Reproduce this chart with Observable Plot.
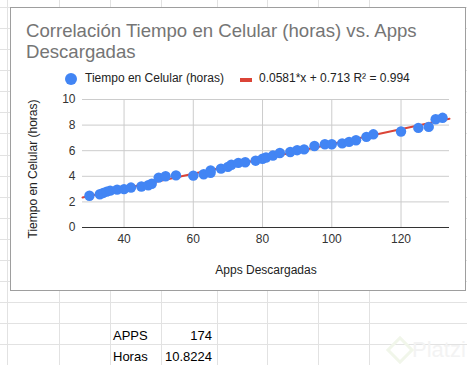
<!DOCTYPE html>
<html>
<head>
<meta charset="utf-8">
<script src="https://cdn.jsdelivr.net/npm/d3@7"></script>
<script src="https://cdn.jsdelivr.net/npm/@observablehq/plot@0.6"></script>
<style>
  html, body { margin: 0; padding: 0; }
  body { width: 467px; height: 365px; position: relative; overflow: hidden; background: #fff; font-family: "Liberation Sans", Arial, sans-serif; }
  .vl { position: absolute; top: 0; width: 1px; height: 365px; background: #e2e2e2; }
  .hl { position: absolute; left: 0; height: 1px; width: 467px; background: #e2e2e2; }
  #box { position: absolute; left: 10px; top: 7px; width: 454px; height: 282px; border: 1px solid #9e9e9e; background: #fff; }
  .abs { position: absolute; white-space: nowrap; }
  #title { left: 15px; top: 12px; font-size: 18.6px; line-height: 21px; color: #757575; }
  .leg { font-size: 12px; color: #222; top: 63px; }
  #chart { position: absolute; left: 0px; top: 80px; }
  .cell { position: absolute; font-size: 13px; color: #000; }
</style>
</head>
<body>
<div id="grid"></div>
<div id="box">
  <div id="title" class="abs">Correlación Tiempo en Celular (horas) vs. Apps<br>Descargadas</div>
  <div class="abs" style="left:54px;top:65px;width:12px;height:12px;border-radius:50%;background:#4285f4"></div>
  <div class="abs leg" style="left:74px">Tiempo en Celular (horas)</div>
  <div class="abs" style="left:229px;top:70px;width:12px;height:4px;background:#db4437"></div>
  <div class="abs leg" style="left:248px">0.0581*x + 0.713 R² = 0.994</div>
  <div id="chart"></div>
  <div class="abs" style="left:22px;top:161px;font-size:12px;color:#222;transform:translate(-50%,-50%) rotate(-90deg)">Tiempo en Celular (horas)</div>
  <div class="abs" style="left:255px;top:255px;font-size:12px;color:#222;transform:translateX(-50%)">Apps Descargadas</div>
</div>
<div class="cell" style="left:113px;top:328px">APPS</div>
<div class="cell" style="left:150px;top:328px;width:62px;text-align:right">174</div>
<div class="cell" style="left:113px;top:349px">Horas</div>
<div class="cell" style="left:150px;top:349px;width:62px;text-align:right">10.8224</div>
<div class="abs" style="left:412px;top:337px;font-size:22px;color:#f3f3f3">Platzi</div>
<div class="abs" style="left:390px;top:340px;width:14px;height:14px;border:3px solid #f1f6ea;transform:rotate(45deg)"></div>
<script>
const apps = [30,33,34,35,36,38,40,42,45,47,48,50,52,55,60,63,65,65,68,70,71,73,75,78,80,81,83,85,88,90,92,95,98,100,103,105,107,110,112,120,125,128,130,132];
const horas = [2.48,2.6,2.7,2.8,2.88,2.96,3.0,3.12,3.2,3.3,3.42,3.9,4.0,4.07,4.05,4.16,4.45,4.27,4.6,4.74,4.9,5.05,5.1,5.22,5.37,5.47,5.62,5.82,5.9,6.04,6.1,6.37,6.5,6.5,6.57,6.69,6.82,7.08,7.28,7.5,7.78,7.86,8.46,8.57];
const trendX = [28, 134];
const trendY = [2.34, 8.50];
const xTicks = [40, 60, 80, 100, 120];
const yTicks = [0, 2, 4, 6, 8, 10];

const pts = apps.map((a, i) => ({apps: a, horas: horas[i]}));
const trend = trendX.map((a, i) => ({apps: a, horas: trendY[i]}));

const grid = document.getElementById("grid");
[7, 59, 110, 161, 217, 267, 318, 369].forEach(x => { const d = document.createElement("div"); d.className = "vl"; d.style.left = x + "px"; grid.appendChild(d); });
[7, 28, 49, 70, 91, 112, 133, 155, 176, 197, 218, 239, 260, 281, 302, 323, 344].forEach(y => { const d = document.createElement("div"); d.className = "hl"; d.style.top = y + "px"; grid.appendChild(d); });

const plot = Plot.plot({
  width: 453, height: 200,
  marginLeft: 71, marginRight: 15, marginTop: 11, marginBottom: 61,
  style: {fontFamily: "Liberation Sans, Arial, sans-serif", fontSize: "12px", color: "#333", background: "transparent", overflow: "visible"},
  x: {domain: [28, 134], ticks: xTicks, tickSize: 0, tickPadding: 7, label: null},
  y: {domain: [0, 10], ticks: yTicks, tickSize: 0, tickPadding: 7, label: null},
  marks: [
    Plot.gridX(xTicks, {stroke: "#cccccc", strokeOpacity: 1}),
    Plot.gridY(yTicks.filter(d => d > 0), {stroke: "#cccccc", strokeOpacity: 1}),
    Plot.ruleY([0], {stroke: "#333"}),
    Plot.line(trend, {x: "apps", y: "horas", stroke: "#db4437", strokeWidth: 2}),
    Plot.dot(pts, {x: "apps", y: "horas", r: 5.2, fill: "#4285f4", stroke: "none"}),
    Plot.axisX({ticks: xTicks, tickSize: 0, tickPadding: 7, label: null, fill: "#333"}),
    Plot.axisY({ticks: yTicks, tickSize: 0, tickPadding: 7, label: null, fill: "#333"})
  ]
});
document.getElementById("chart").appendChild(plot);
</script>
</body>
</html>
